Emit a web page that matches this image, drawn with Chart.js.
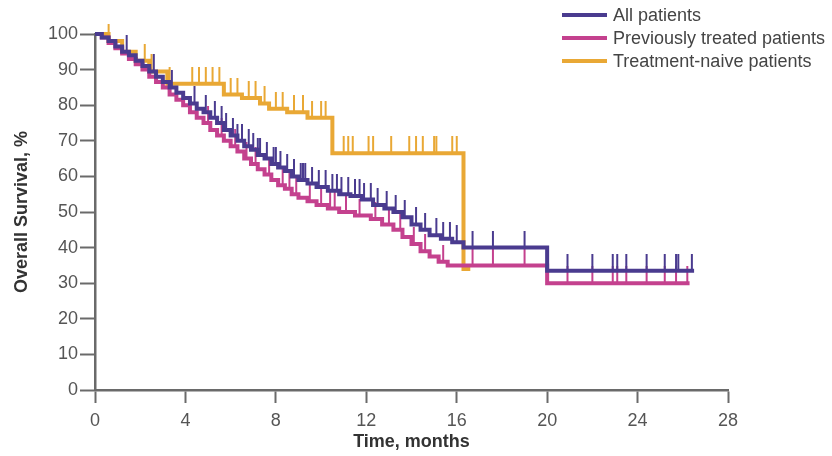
<!DOCTYPE html>
<html>
<head>
<meta charset="utf-8">
<script src="https://cdn.jsdelivr.net/npm/chart.js@4.4.0/dist/chart.umd.min.js"></script>
<style>
  html, body { margin: 0; padding: 0; background: #fff; }
  #wrap { width: 832px; height: 456px; }
</style>
</head>
<body>
<div id="wrap"><canvas id="os-chart" width="832" height="456"></canvas></div>
<script>
// Kaplan-Meier step points: time (months) and survival (%) after each event
const allTimes = [0, 0.3, 0.6, 0.9, 1.2, 1.5, 1.8, 2.1, 2.4, 2.7, 3.0, 3.3, 3.6, 3.9, 4.2, 4.5, 4.8, 5.1, 5.4, 5.7,
  6.0, 6.3, 6.6, 6.9, 7.2, 7.5, 7.8, 8.1, 8.4, 8.7, 9.0, 9.4, 9.8, 10.3, 10.8, 11.3, 11.8, 12.3, 12.8, 13.2,
  13.6, 14.0, 14.4, 14.8, 15.3, 15.8, 16.3, 20.0, 26.5];
const allSurv = [100, 99, 98, 96.5, 95, 94, 92.5, 91, 89.5, 88, 86.5, 85, 83.5, 82, 80.5, 79, 78, 76.5, 75, 73,
  71.5, 70, 68.5, 67.5, 66, 65, 63.5, 62.5, 61.5, 60, 59, 58, 57, 56, 55, 54.5, 53.5, 52, 51, 50,
  48.5, 46.5, 45, 43.5, 42.5, 41.5, 40, 33.5, 33.5];

const prevTimes = [0, 0.3, 0.6, 0.9, 1.2, 1.5, 1.8, 2.1, 2.4, 2.7, 3.0, 3.3, 3.6, 3.9, 4.2, 4.5, 4.8, 5.1, 5.4, 5.7,
  6.0, 6.3, 6.6, 6.9, 7.2, 7.5, 7.8, 8.1, 8.4, 8.7, 9.0, 9.4, 9.8, 10.3, 10.8, 11.5, 12.2, 12.7, 13.2, 13.6,
  14.0, 14.4, 14.8, 15.2, 15.6, 20.0, 26.3];
const prevSurv = [100, 99, 97.5, 96, 94.5, 93, 91.5, 90, 88, 86.5, 85, 83, 81.5, 80, 78, 76.5, 75, 73, 71.5, 70,
  68.5, 67, 65, 63.5, 62, 60.5, 59, 57.5, 56.5, 55, 54, 53, 52, 51, 50, 49, 48, 46.5, 45, 43,
  41, 39, 37.5, 36, 35, 30, 30];

const naiveTimes = [0, 0.6, 1.2, 1.8, 2.4, 3.2, 5.7, 6.5, 7.3, 7.7, 8.5, 9.4, 10.5, 16.3, 16.6];
const naiveSurv = [100, 98, 95, 92.5, 89.5, 86, 83, 82, 80.5, 79, 78, 76.5, 66.5, 34, 34];

// Censoring times (months)
const allCensor = [1.4, 2.6, 3.4, 4.4, 4.9, 5.3, 5.6, 5.8, 6.1, 6.3, 6.5, 6.8, 7.0, 7.2, 7.3, 7.6, 7.9, 8.0, 8.2,
  8.5, 8.8, 9.1, 9.2, 9.3, 9.6, 9.9, 10.2, 10.5, 10.7, 10.9, 11.2, 11.5, 11.7, 11.9, 12.2, 12.5, 12.9, 13.3,
  13.7, 14.2, 14.6, 15.1, 15.4, 15.7, 16.0, 16.7, 17.6, 19.0, 20.9, 22.0, 22.9, 23.1, 23.5, 24.4, 25.2, 25.7,
  25.8, 26.4];
const prevCensor = [5.0, 5.6, 6.2, 6.7, 7.1, 7.7, 8.3, 8.6, 8.9, 9.5, 10.0, 10.4, 10.6, 11.1, 11.7, 12.4, 13.0,
  13.5, 14.1, 14.6, 15.4, 16.7, 17.6, 19.0, 20.9, 22.0, 22.9, 23.1, 23.5, 24.4, 25.2, 25.7, 26.2];
const naiveCensor = [0.6, 2.2, 2.5, 3.3, 4.3, 4.6, 4.9, 5.2, 5.5, 6.0, 6.3, 6.8, 7.1, 7.5, 8.0, 8.3, 8.8, 9.2,
  9.6, 10.0, 10.2, 11.0, 11.2, 11.4, 12.1, 12.3, 13.1, 13.9, 14.2, 14.5, 15.0, 15.1, 15.8, 16.0];

const seriesLabels = ['All patients', 'Previously treated patients', 'Treatment-naive patients'];
const seriesColors = ['#4a3b8f', '#c4418e', '#e9a835'];

const xTicks = [0, 4, 8, 12, 16, 20, 24, 28];
const yTicks = [0, 10, 20, 30, 40, 50, 60, 70, 80, 90, 100];

const axisColor = '#6a6a6a';
const fontFamily = '"Liberation Sans", Arial, sans-serif';

function stepPoints(times, surv) {
    return times.map((t, i) => ({ x: t, y: surv[i] }));
}

// survival value in effect at time t
function survAt(times, surv, t) {
    let v = surv[0];
    for (let i = 0; i < times.length; i++) {
        if (times[i] <= t) v = surv[i];
    }
    return v;
}

function censorPoints(censor, times, surv) {
    return censor.map(t => ({ x: t, y: survAt(times, surv, t) }));
}

// vertical tick rising from the curve
function tickMark(color) {
    const c = document.createElement('canvas');
    c.width = 4;
    c.height = 34;
    const g = c.getContext('2d');
    g.fillStyle = color;
    g.fillRect(1, 0, 2, 17);
    return c;
}

function curve(label, times, surv, color) {
    return {
        label: label,
        data: stepPoints(times, surv),
        borderColor: color,
        backgroundColor: color,
        borderWidth: 4,
        stepped: 'before',
        pointRadius: 0,
        fill: false,
        clip: false
    };
}

function censorSet(label, censor, times, surv, color) {
    return {
        label: label + ' (censored)',
        data: censorPoints(censor, times, surv),
        showLine: false,
        pointStyle: tickMark(color),
        pointRadius: 10,
        borderColor: color,
        backgroundColor: color,
        clip: false
    };
}

const legendPlugin = {
    id: 'kmLegend',
    afterDraw(chart) {
        const ctx = chart.ctx;
        ctx.save();
        ctx.font = '18px ' + fontFamily;
        ctx.textBaseline = 'middle';
        ctx.fillStyle = '#444';
        const rows = [15, 38, 61];
        seriesLabels.forEach((label, i) => {
            ctx.strokeStyle = seriesColors[i];
            ctx.lineWidth = 4;
            ctx.beginPath();
            ctx.moveTo(562, rows[i]);
            ctx.lineTo(607, rows[i]);
            ctx.stroke();
            ctx.fillText(label, 613, rows[i] + 1);
        });
        ctx.restore();
    }
};

const ctx = document.getElementById('os-chart').getContext('2d');

// first dataset is drawn on top
new Chart(ctx, {
    type: 'line',
    data: {
        datasets: [
            censorSet(seriesLabels[0], allCensor, allTimes, allSurv, seriesColors[0]),
            curve(seriesLabels[0], allTimes, allSurv, seriesColors[0]),
            censorSet(seriesLabels[1], prevCensor, prevTimes, prevSurv, seriesColors[1]),
            curve(seriesLabels[1], prevTimes, prevSurv, seriesColors[1]),
            censorSet(seriesLabels[2], naiveCensor, naiveTimes, naiveSurv, seriesColors[2]),
            curve(seriesLabels[2], naiveTimes, naiveSurv, seriesColors[2])
        ]
    },
    options: {
        responsive: false,
        animation: false,
        layout: {
            padding: { left: 0, top: 34, right: 104, bottom: 0 }
        },
        elements: {
            line: { tension: 0 }
        },
        scales: {
            x: {
                type: 'linear',
                min: 0,
                max: 28,
                afterFit: function(scale) { scale.height = 66; },
                afterBuildTicks: function(scale) { scale.ticks = xTicks.map(v => ({ value: v })); },
                ticks: {
                    color: '#555',
                    font: { family: fontFamily, size: 18 },
                    padding: 7,
                    maxRotation: 0
                },
                grid: {
                    drawOnChartArea: false,
                    tickLength: 13,
                    tickWidth: 2,
                    tickColor: axisColor
                },
                border: { display: true, color: axisColor, width: 2.5 },
                title: {
                    display: true,
                    text: 'Time, months',
                    color: '#333',
                    font: { family: fontFamily, size: 18, weight: 'bold' },
                    padding: { top: 0, bottom: 3 }
                }
            },
            y: {
                min: 0,
                max: 100,
                afterFit: function(scale) { scale.width = 95; },
                afterBuildTicks: function(scale) { scale.ticks = yTicks.map(v => ({ value: v })); },
                ticks: {
                    color: '#555',
                    font: { family: fontFamily, size: 18 },
                    padding: 2
                },
                grid: {
                    drawOnChartArea: false,
                    tickLength: 15,
                    tickWidth: 2,
                    tickColor: axisColor
                },
                border: { display: true, color: axisColor, width: 2.5 },
                title: {
                    display: true,
                    text: 'Overall Survival, %',
                    color: '#333',
                    font: { family: fontFamily, size: 18, weight: 'bold' },
                    padding: { top: 11, bottom: 0 }
                }
            }
        },
        plugins: {
            legend: { display: false },
            tooltip: { enabled: false }
        }
    },
    plugins: [legendPlugin]
});
</script>
</body>
</html>
